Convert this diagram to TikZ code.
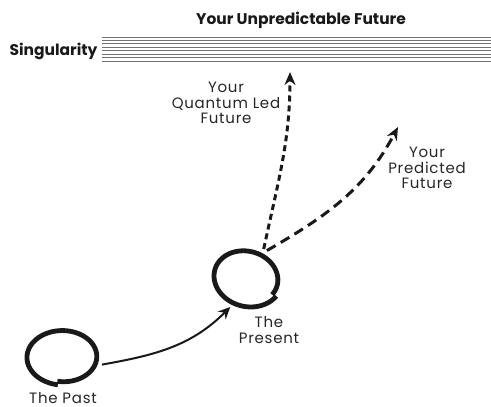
\documentclass[tikz,border=0pt]{standalone}
\usepackage{fontspec}
\setmainfont{Poppins}
\newfontfamily\lblfont{Poppins}[LetterSpace=5]
\usetikzlibrary{arrows.meta,positioning,calc,shapes}

% hand drawn ring: node, x radius, y radius, notch angle, tilt
\newcommand{\blob}[5]{%
  \draw[blobline,shift={(#1.center)},rotate=#5] plot[smooth,domain=0:362,samples=80]
    ({#2*(0.88+0.00033*\x)*cos(\x+#4)},{#3*(0.88+0.00033*\x)*sin(\x+#4)});
}

\begin{document}
\begin{tikzpicture}[x=1pt,y=1pt,
  txt/.style={font=\lblfont\fontsize{15}{15.5}\selectfont,text=black!85,align=center,inner sep=0pt},
  headtxt/.style={font=\bfseries\fontsize{15.5}{16}\selectfont,text=black!90,inner sep=0pt},
  hub/.style={ellipse,draw=none,inner sep=0pt},
  blobline/.style={line width=4.8pt,black!90},
  flow/.style={line width=2pt,black!90,-{Stealth[length=12pt,width=11pt]}},
  qflow/.style={line width=3pt,black!90,dash pattern=on 6pt off 4pt,-{Stealth[length=13pt,width=11pt]}},
  pflow/.style={line width=3pt,black!90,dash pattern=on 10pt off 6pt,-{Stealth[length=13pt,width=11pt]}}]
\useasboundingbox (0,0) rectangle (491,-407);

% Singularity band
\foreach \k in {0,...,7}
  \draw[black!55,line width=0.9pt] (102,-37-3.43*\k) -- (491,-37-3.43*\k);
\node[headtxt,anchor=base] (sing) at (53.5,-55) {Singularity};
\node[headtxt,anchor=base] (title) at (301,-24) {Your Unpredictable Future};

% Past and present
\node[hub,minimum width=80pt,minimum height=62pt] (past) at (63,-357) {};
\node[hub,minimum width=76pt,minimum height=64pt] (present) at (247,-278) {};
\blob{past}{37}{28}{-100}{0}
\blob{present}{35}{29}{-22}{-15}

% Labels
\node[txt,anchor=base] (pastlbl) at (63,-403) {The Past};
\node[txt] (presentlbl) at (269,-330) {The\\Present};
\node[txt] (quantumlbl) at (226,-103) {Your\\Quantum Led\\Future};
\node[txt] (predictedlbl) at (427,-168) {Your\\Predicted\\Future};

% Arrows
\coordinate (qtip) at (290,-72);
\coordinate (ptip) at (398,-127);
\draw[flow] (past.-11) to[out=10,in=-135] (present.-120);
\draw[qflow] (present.60) to[out=78,in=-90] (qtip);
\draw[pflow] (present.54) to[out=30,in=-118] (ptip);
\end{tikzpicture}
\end{document}
